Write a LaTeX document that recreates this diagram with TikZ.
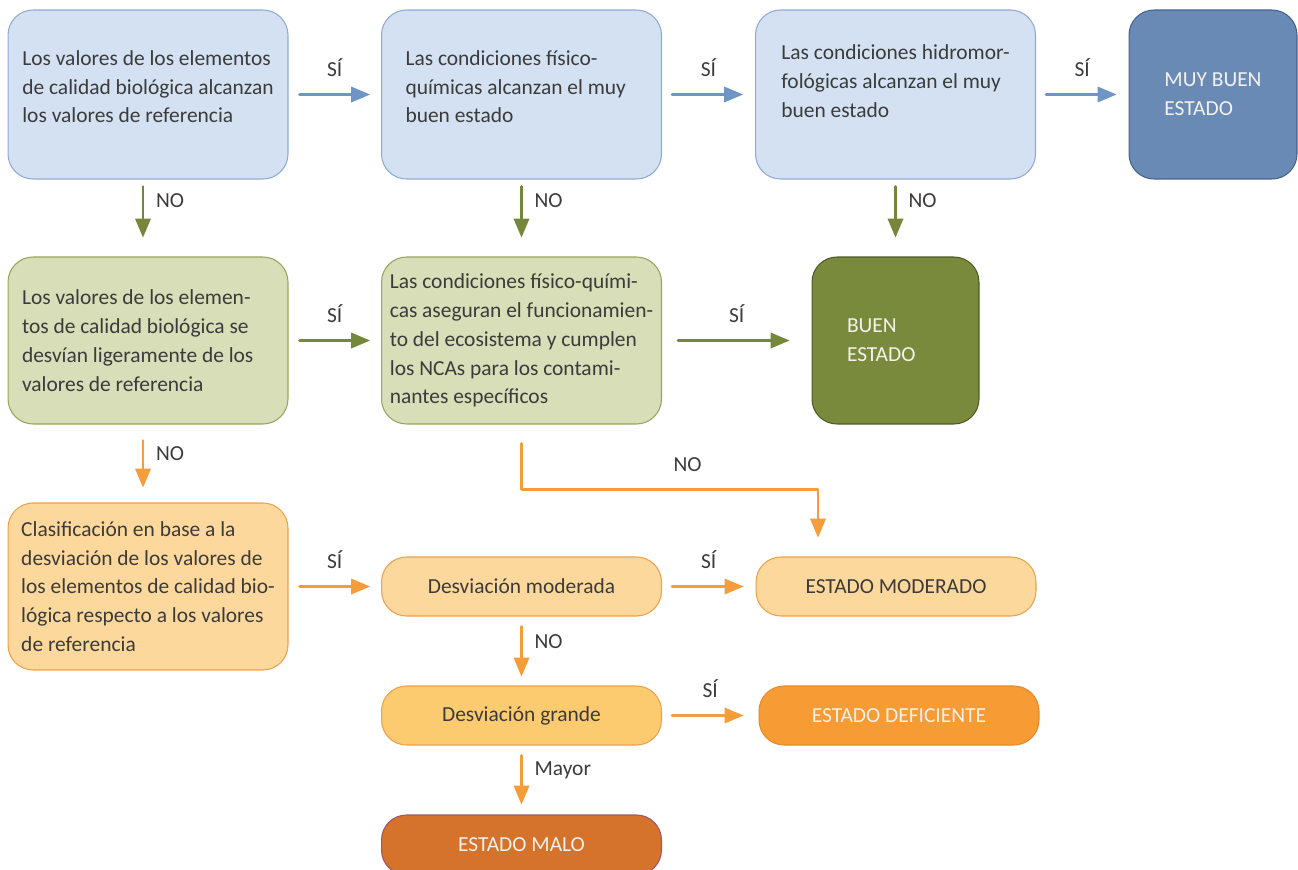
\documentclass[tikz,border=0pt]{standalone}
\usepackage{fontspec}
\setmainfont{Carlito}
\usetikzlibrary{arrows}

\definecolor{texto}{HTML}{3B3B3B}
\definecolor{textoclaro}{HTML}{F4F1EC}
\definecolor{azulclaro}{HTML}{D3E1F2}
\definecolor{azulborde}{HTML}{8FAAD2}
\definecolor{azuloscuro}{HTML}{6A8AB6}
\definecolor{azulosborde}{HTML}{44618E}
\definecolor{flechaazul}{HTML}{6F95C5}
\definecolor{verdeclaro}{HTML}{D7DEB8}
\definecolor{verdeborde}{HTML}{98A35C}
\definecolor{verdeoscuro}{HTML}{7A8A3D}
\definecolor{verdeosborde}{HTML}{4E5A25}
\definecolor{flechaverde}{HTML}{75873A}
\definecolor{naranjaclaro}{HTML}{FDD89C}
\definecolor{naranjaborde}{HTML}{EFA04B}
\definecolor{naranjamedio}{HTML}{FDCB6F}
\definecolor{naranja}{HTML}{F79B35}
\definecolor{naranjaosborde}{HTML}{E8892A}
\definecolor{teja}{HTML}{D5722B}
\definecolor{tejaborde}{HTML}{A2566A}
\definecolor{flechanaranja}{HTML}{F59D3B}

\begin{document}
\begin{tikzpicture}[line cap=round,line join=round,>=triangle 45,x=0.02cm,y=-0.02cm,
  font=\fontsize{12.2}{16.4}\selectfont,
  caja/.style={rounded corners=0.5cm,line width=0.6pt,align=flush left,text=texto,minimum width=5.6cm,inner xsep=3pt},
  cajaazul/.style={caja,fill=azulclaro,draw=azulborde,minimum height=3.38cm},
  cajaverde/.style={caja,fill=verdeclaro,draw=verdeborde,minimum height=3.34cm},
  cajanaranja/.style={caja,fill=naranjaclaro,draw=naranjaborde,minimum height=3.34cm},
  pildora/.style={caja,minimum height=1.18cm,draw=naranjaborde},
  final/.style={caja,text=textoclaro,minimum width=3.36cm},
  flecha/.style={->,line width=1.5pt},
  etiq/.style={inner sep=1pt,text=texto}]
\useasboundingbox (0,0) rectangle (1298,869);
% primera fila
\node[cajaazul] (a1) at (148,94.5) {Los valores de los elementos\\de calidad biológica alcanzan\\los valores de referencia\\[-0.26cm]\mbox{}};
\node[cajaazul,text width=4.64cm] (a2) at (521.5,94.5) {Las condiciones físico-\\químicas alcanzan el muy\\buen estado\\[-0.26cm]\mbox{}};
\node[cajaazul] (a3) at (895.5,94.5) {Las condiciones hidromor-\\fológicas alcanzan el muy\\buen estado\\[-0.04cm]\mbox{}};
\node[final,fill=azuloscuro,draw=azulosborde,minimum height=3.38cm] (a4) at (1213,94.5) {MUY BUEN\\ESTADO};
% segunda fila
\node[cajaverde,text width=5.04cm] (b1) at (148,340.5) {Los valores de los elemen-\\tos de calidad biológica se\\desvían ligeramente de los\\valores de referencia};
\node[cajaverde] (b2) at (521.5,340.5) {Las condiciones físico-quími-\\cas aseguran el funcionamien-\\to del ecosistema y cumplen\\los NCAs para los contami-\\nantes específicos};
\node[final,fill=verdeoscuro,draw=verdeosborde,minimum width=3.34cm,minimum height=3.34cm,text width=1.94cm] (b3) at (895.5,340.5) {BUEN\\ESTADO};
% tercera fila
\node[cajanaranja] (c1) at (148,586.5) {Clasificación en base a la\\desviación de los valores de\\los elementos de calidad bio-\\lógica respecto a los valores\\de referencia};
\node[pildora,fill=naranjaclaro] (c2) at (521.5,586.5) {Desviación moderada};
\node[pildora,fill=naranjaclaro] (c3) at (896,586.5) {ESTADO MODERADO};
\node[pildora,fill=naranjamedio] (d1) at (521.5,715.5) {Desviación grande};
\node[pildora,fill=naranja,draw=naranjaosborde,text=textoclaro] (d2) at (899,715.5) {ESTADO DEFICIENTE};
\node[pildora,fill=teja,draw=tejaborde,text=textoclaro,minimum height=1.2cm] (e1) at (521.5,845) {ESTADO MALO};
% flechas azules
\draw[flecha,flechaazul,shorten <=0.22cm,shorten >=0.22cm] (a1) -- node[etiq,above=0.3cm] {SÍ} (a2);
\draw[flecha,flechaazul,shorten <=0.2cm,shorten >=0.24cm] (a2) -- node[etiq,above=0.3cm] {SÍ} (a3);
\draw[flecha,flechaazul,shorten <=0.2cm,shorten >=0.24cm] (a3) -- node[etiq,above=0.3cm] {SÍ} (a4);
% flechas verdes
\draw[flecha,flechaverde,shorten <=0.14cm,shorten >=0.38cm] ([xshift=-0.1cm]a1.south) -- node[etiq,right=0.2cm,pos=0.27] {NO} ([xshift=-0.1cm]b1.north);
\draw[flecha,flechaverde,shorten <=0.14cm,shorten >=0.38cm] (a2) -- node[etiq,right=0.2cm,pos=0.27] {NO} (b2);
\draw[flecha,flechaverde,shorten <=0.14cm,shorten >=0.38cm] (a3) -- node[etiq,right=0.2cm,pos=0.27] {NO} (b3);
\draw[flecha,flechaverde,shorten <=0.22cm,shorten >=0.22cm] (b1) -- node[etiq,above=0.3cm] {SÍ} (b2);
\draw[flecha,flechaverde,shorten <=0.32cm,shorten >=0.44cm] (b2) -- node[etiq,above=0.3cm] {SÍ} (b3);
% flechas naranjas
\draw[flecha,flechanaranja,shorten <=0.32cm,shorten >=0.3cm] ([xshift=-0.1cm]b1.south) -- node[etiq,right=0.2cm,pos=0.37] {NO} ([xshift=-0.1cm]c1.north);
\draw[flecha,flechanaranja,shorten <=0.38cm,shorten >=0.38cm] (b2.south) -- ++(0,65) -| node[etiq,above=0.3cm,pos=0.28] {NO} ([xshift=-1.56cm]c3.north);
\draw[flecha,flechanaranja,shorten <=0.22cm,shorten >=0.22cm] (c1) -- node[etiq,above=0.3cm] {SÍ} (c2);
\draw[flecha,flechanaranja,shorten <=0.2cm,shorten >=0.24cm] (c2) -- node[etiq,above=0.3cm] {SÍ} (c3);
\draw[flecha,flechanaranja,shorten <=0.2cm,shorten >=0.18cm] (c2) -- node[etiq,right=0.2cm,pos=0.36] {NO} (d1);
\draw[flecha,flechanaranja,shorten <=0.2cm,shorten >=0.3cm] (d1) -- node[etiq,above=0.3cm] {SÍ} (d2);
\draw[flecha,flechanaranja,shorten <=0.2cm,shorten >=0.2cm] (d1) -- node[etiq,right=0.2cm,pos=0.36] {Mayor} (e1);
\end{tikzpicture}
\end{document}
